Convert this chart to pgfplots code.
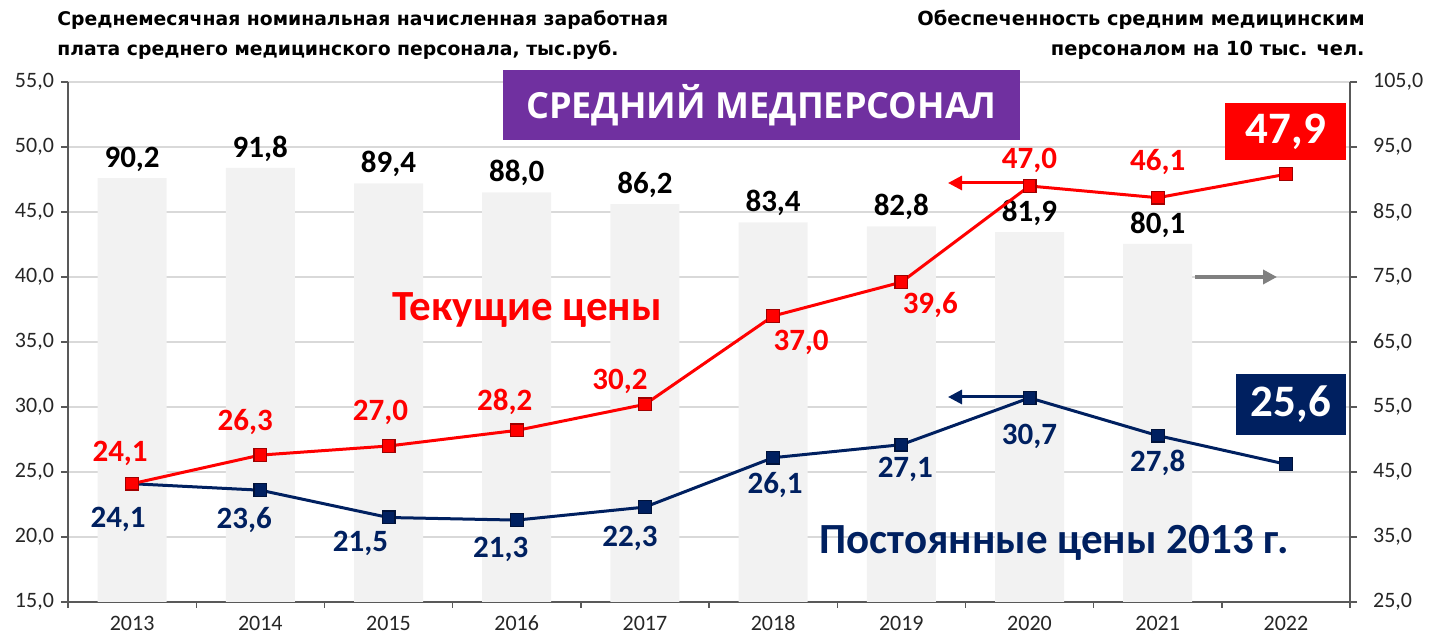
\documentclass[border=0pt]{standalone}
\usepackage{fontspec}
\setmainfont{Carlito}
\newfontfamily\titlefont{DejaVu Sans}
\newfontfamily\bannerfont{Open Sans}
\usepackage{pgfplots}
\pgfplotsset{compat=1.18}
\usepackage{pgfplotstable}
\usetikzlibrary{arrows.meta}

\definecolor{barfill}{HTML}{F2F2F2}
\definecolor{curred}{HTML}{FF0000}
\definecolor{darkred}{HTML}{A00000}
\definecolor{navy}{HTML}{002060}
\definecolor{darknavy}{HTML}{00123A}
\definecolor{banner}{HTML}{7030A0}
\definecolor{gridgray}{HTML}{D9D9D9}
\definecolor{axisgray}{HTML}{595959}
\definecolor{ticktext}{HTML}{262626}
\definecolor{arrowgray}{HTML}{808080}

\pgfkeys{/pgf/number format/.cd, use comma, fixed, fixed zerofill, precision=1, assume math mode=true}

% staff per 10 thousand people (right axis)
\pgfplotstableread{
x v
0 90.2
1 91.8
2 89.4
3 88.0
4 86.2
5 83.4
6 82.8
7 81.9
8 80.1
}\staff

% salary, current prices; dx dy = label offsets in pt
\pgfplotstableread{
x y dx dy
0 24.1 -6 15
1 26.3 -7.5 16.5
2 27.0 -4 17
3 28.2 -6 14.5
4 30.2 -12.5 11.5
5 37.0 14 -13
6 39.6 14.5 -11.5
7 47.0 0 13
8 46.1 0 18
9 47.9 0 21.4
}\current

% salary, constant 2013 prices
\pgfplotstableread{
x y dx dy
0 24.1 -7 -18
1 23.6 -8 -15
2 21.5 -14 -13
3 21.3 -8 -14.5
4 22.3 -7.5 -15.5
5 26.1 1 -13.5
6 27.1 2 -12.5
7 30.7 0 -19.5
8 27.8 0 -13.5
9 25.6 2.5 30
}\constant

\newcommand{\labfont}{\fontsize{15.5pt}{15.5pt}\selectfont\bfseries}
\newcommand{\boxfont}{\fontsize{22.5pt}{22.5pt}\selectfont\bfseries}

\pgfplotsset{
  base/.style={
    at={(34pt,17pt)}, anchor=south west, scale only axis,
    width=641pt, height=260pt,
    xmin=-0.5, xmax=9.5,
    clip=false,
    tick align=outside,
    major tick length=3.5pt,
    axis line style={draw=axisgray, line width=0.7pt, -},
    tick style={draw=axisgray, line width=0.7pt},
    ticklabel style={font=\fontsize{11pt}{11pt}\selectfont, text=ticktext},
  },
  labels/.style={
    nodes near coords,
    visualization depends on={\thisrow{dx}\as\dx},
    visualization depends on={\thisrow{dy}\as\dy},
    every node near coord/.append style={anchor=center, inner sep=0pt,
      xshift=\dx pt, yshift=\dy pt, font=\labfont, text=#1},
  },
}

\begin{document}
\begin{tikzpicture}
\path[use as bounding box] (0,0) rectangle (714.5pt,318pt);

\begin{axis}[base,
  ymin=25, ymax=105, ytick={25,35,...,105},
  axis y line*=right, axis x line*=bottom,
  ymajorgrids, grid style={draw=gridgray, line width=0.7pt},
  xtick={0,...,9},
  xticklabels={2013,2014,2015,2016,2017,2018,2019,2020,2021,2022},
  xticklabel style={anchor=center, inner sep=0pt, text height=7pt, text depth=0pt, yshift=-7.5pt},
  yticklabel style={xshift=4.5pt},
  major x tick style={draw=none},
  minor xtick={-0.5,0.5,...,9.5},
  minor tick length=3pt,
  minor x tick style={draw=axisgray, line width=0.7pt},
]
\addplot[ybar, bar width=34.5pt, fill=barfill, draw=none,
  nodes near coords,
  every node near coord/.append style={anchor=south, inner sep=0pt, yshift=3pt,
    font=\labfont, text=black}]
  table[x=x, y=v]{\staff};
\end{axis}

\begin{scope}[x=0.5pt, y=-0.5pt, yshift=318pt]
\draw[curred, line width=1.5pt, -{Triangle[length=7pt, width=7pt]}] (1029,183) -- (948,183);
\draw[navy, line width=1.5pt, -{Triangle[length=7pt, width=7pt]}] (1029,397) -- (948,397);
\draw[arrowgray, line width=2pt, -{Triangle[length=7pt, width=7pt]}] (1195,277) -- (1277,277);
\end{scope}

\begin{axis}[base,
  ymin=15, ymax=55, ytick={15,20,...,55},
  axis y line*=left, axis x line=none,
]
\addplot[navy, line width=1.5pt, mark=square*, mark size=3.2pt,
  mark options={fill=navy, draw=darknavy, line width=0.6pt}]
  table[x=x, y=y]{\constant};
\addplot[curred, line width=1.5pt, mark=square*, mark size=3.2pt,
  mark options={fill=curred, draw=darkred, line width=0.6pt}]
  table[x=x, y=y]{\current};
\addplot[draw=none, labels=navy, skip coords between index={9}{10}]
  table[x=x, y=y]{\constant};
\addplot[draw=none, labels=curred, skip coords between index={9}{10}]
  table[x=x, y=y]{\current};
\addplot[draw=none, nodes near coords, skip coords between index={0}{9},
  every node near coord/.append style={anchor=center, inner sep=0pt,
    fill=navy, text=white, minimum width=55pt, minimum height=30.5pt,
    xshift=2.5pt, yshift=30pt, font=\boxfont}]
  table[x=x, y=y]{\constant};
\addplot[draw=none, nodes near coords, skip coords between index={0}{9},
  every node near coord/.append style={anchor=center, inner sep=0pt,
    fill=curred, text=white, minimum width=60.5pt, minimum height=28.5pt,
    xshift=0pt, yshift=21.4pt, font=\boxfont}]
  table[x=x, y=y]{\current};
\end{axis}

\begin{scope}[x=0.5pt, y=-0.5pt, yshift=318pt]
\node[fill=banner, text=white, minimum width=258.5pt, minimum height=35pt, inner sep=0pt,
  font=\bannerfont\bfseries\fontsize{18pt}{18pt}\selectfont] at (761.5,105) {СРЕДНИЙ МЕДПЕРСОНАЛ};
\node[anchor=west, align=left, inner sep=0pt,
  font=\titlefont\bfseries\fontsize{9.4pt}{15pt}\selectfont] at (57,35)
  {Среднемесячная номинальная начисленная заработная\\плата среднего медицинского персонала, тыс.руб.};
\node[anchor=east, align=right, inner sep=0pt,
  font=\titlefont\bfseries\fontsize{9.7pt}{15pt}\selectfont] at (1365,35)
  {Обеспеченность средним медицинским\\персоналом на 10 тыс. чел.};
\node[font=\bfseries\fontsize{21.5pt}{21.5pt}\selectfont, text=curred] at (527,310) {Текущие цены};
\node[font=\bfseries\fontsize{21.5pt}{21.5pt}\selectfont, text=navy] at (1054,543) {Постоянные цены 2013 г.};
\end{scope}
\end{tikzpicture}
\end{document}
